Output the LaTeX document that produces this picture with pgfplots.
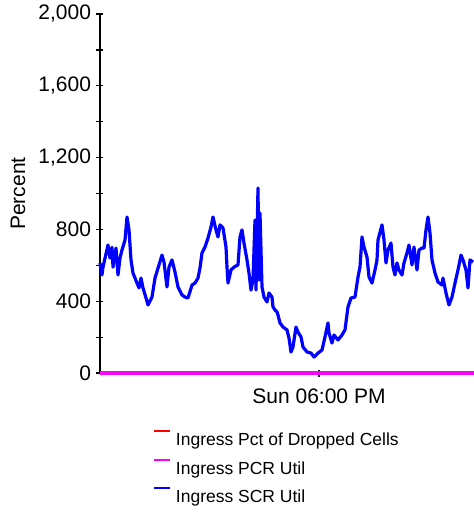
\documentclass[border=0pt]{standalone}
\usepackage{fontspec}
\setmainfont{Liberation Sans}
\usepackage{pgfplots}
\pgfplotsset{compat=1.18}
\definecolor{cred}{RGB}{255,0,0}
\definecolor{cmag}{RGB}{255,0,255}
\definecolor{cblue}{RGB}{0,0,255}
\begin{document}
\begin{tikzpicture}
\path[use as bounding box] (-100pt,-139pt) rectangle (374pt,373pt);
\begin{axis}[
  at={(0pt,0pt)}, anchor=south west,
  scale only axis, width=374pt, height=359pt,
  xmin=100, xmax=474, ymin=0, ymax=2000,
  axis x line=bottom, axis y line=left,
  axis line style={line width=1.4pt, -},
  x axis line style={draw=none},
  xtick={319}, xticklabels={Sun 06:00 PM},
  ytick={0,400,800,1200,1600,2000},
  minor ytick={200,600,1000,1400,1800},
  tick align=center,
  major tick length=7pt, minor tick length=7pt,
  tick style={line width=1.2pt, black},
  /pgf/number format/assume math mode=true,
  /pgf/number format/1000 sep={,},
  ticklabel style={font=\fontsize{21}{25}\selectfont},
  xticklabel style={yshift=-9pt},
  yticklabel style={xshift=-2pt},
  ylabel={Percent},
  ylabel style={font=\fontsize{21}{25}\selectfont, at={(axis description cs:-0.219,0.5)}, anchor=center},
  clip=false,
  legend style={draw=none, fill=none, anchor=north west,
    at={(axis description cs:0.1417,-0.159)},
    inner sep=0pt,
    font=\fontsize{17.5}{20}\selectfont,
    nodes={inner sep=0pt, text height=13pt, text depth=4pt},
    /tikz/every even column/.style={column sep=0pt},
    /tikz/row sep=9pt},
  legend cell align=left,
]
\addplot[cred, line width=3pt, legend image code/.code={\draw[draw=cred, line width=2pt] (0pt,10pt) -- (16pt,10pt); \path (20pt,0pt);}] coordinates {(100,0) (474,0)};
\addlegendentry{Ingress Pct of Dropped Cells}
\addplot[cmag, line width=3.5pt, legend image code/.code={\draw[draw=cmag, line width=2pt] (0pt,10pt) -- (16pt,10pt); \path (20pt,0pt);}] coordinates {(100,0) (474,0)};
\addlegendentry{Ingress PCR Util}
\addplot[cblue, line width=3.2pt, line join=round, legend image code/.code={\draw[draw=cblue, line width=2pt] (0pt,10pt) -- (16pt,10pt); \path (20pt,0pt);}] coordinates {
(100,613) (102,546) (103,590) (108,713) (110,640) (112,700) (113,590) (116,696)
(118,546) (120,640) (122,685) (125,741) (127,869) (129,797) (131,630) (133,557)
(137,501) (139,474) (141,529) (143,474) (146,418) (148,379) (152,423) (155,529)
(159,602) (162,657) (164,618) (167,479) (169,590) (172,630) (175,563) (178,479)
(182,435) (185,423) (188,418) (192,490) (195,501) (198,529) (200,585) (202,669)
(205,702) (208,752) (211,813) (213,869) (216,797) (218,758) (220,825) (223,808)
(226,702) (227,590) (228,501) (231,574) (234,590) (238,602) (240,758) (242,797)
(244,724) (247,630) (249,557) (251,462) (253,518) (255,852) (256,462) (258,1031)
(259,518) (260,891) (262,479) (264,423) (267,396) (269,446) (272,423) (273,368)
(275,351) (277,340) (278,323) (280,279) (283,256) (287,240) (289,195) (291,117)
(293,145) (296,256) (298,228) (301,201) (303,145) (307,117) (311,111) (314,89)
(318,111) (322,128) (325,201) (328,279) (329,223) (332,167) (334,212) (338,184)
(342,212) (345,240) (348,368) (351,418) (355,423) (358,535) (360,590) (362,758)
(364,702) (367,646) (369,535) (372,501) (375,574) (377,630) (378,741) (382,825)
(384,741) (386,613) (388,685) (391,724) (393,590) (395,546) (397,613) (399,574)
(402,546) (404,613) (407,669) (409,713) (412,602) (414,702) (417,574) (419,685)
(422,696) (424,696) (426,797) (428,869) (430,780) (432,630) (435,557) (438,507)
(442,490) (443,529) (446,446) (449,379) (452,423) (455,501) (458,574) (461,657)
(463,630) (466,574) (468,474) (470,630) (473,618)
};
\addlegendentry{Ingress SCR Util}
\end{axis}
\end{tikzpicture}
\end{document}
